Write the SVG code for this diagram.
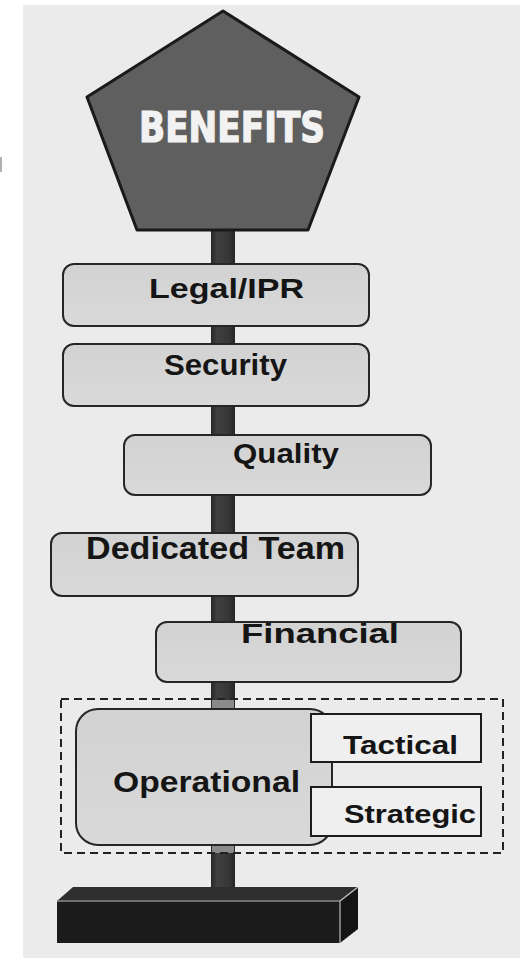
<svg xmlns="http://www.w3.org/2000/svg" width="520" height="958" viewBox="0 0 520 958">
  <defs>
    <linearGradient id="poleGrad" x1="0" y1="0" x2="1" y2="0">
      <stop offset="0" stop-color="#262626"/>
      <stop offset="0.25" stop-color="#404040"/>
      <stop offset="0.75" stop-color="#363636"/>
      <stop offset="1" stop-color="#262626"/>
    </linearGradient>
    <linearGradient id="boxGrad" x1="0" y1="0" x2="0" y2="1">
      <stop offset="0" stop-color="#d2d2d2"/>
      <stop offset="1" stop-color="#d9d9d9"/>
    </linearGradient>
  </defs>
  <style>
    .bg { fill: #ebebeb; }
    .box { fill: url(#boxGrad); stroke: #262626; stroke-width: 2; }
    .sub { fill: #efefef; stroke: #1c1c1c; stroke-width: 2; }
    .lbl { font-family: "Liberation Sans", Arial, sans-serif; font-weight: bold; fill: #151515; }
    .title { font-family: "DejaVu Sans Condensed", "Liberation Sans Narrow", sans-serif; font-weight: bold; fill: #f2f2f2; stroke: #f2f2f2; stroke-width: 1.2; }
    .dash { fill: none; stroke: #222; stroke-width: 2; stroke-dasharray: 8 5; }
  </style>

  <!-- page -->
  <rect x="0" y="0" width="520" height="958" fill="#ffffff"/>
  <rect class="bg" x="23" y="5" width="497" height="953"/>
  <rect x="0" y="157" width="2" height="15" fill="#b0b0b0"/>

  <!-- signpost pole -->
  <g id="connectors">
    <rect x="211" y="225" width="24" height="668" fill="url(#poleGrad)"/>
    <rect x="212" y="700" width="22" height="10" fill="#8a8a8a"/>
    <rect x="212" y="845" width="22" height="8" fill="#8a8a8a"/>
  </g>

  <g id="benefits">
    <polygon points="223,11 359,97 308,230 137,230 87,97" fill="#5f5f5f" stroke="#1a1a1a" stroke-width="3" stroke-linejoin="round"/>
    <text class="title" x="139" y="142" font-size="42" textLength="186" lengthAdjust="spacingAndGlyphs">BENEFITS</text>
  </g>

  <g id="legal">
    <rect class="box" x="63" y="264" width="306" height="62" rx="11"/>
    <text class="lbl" x="149" y="298" font-size="28" textLength="155" lengthAdjust="spacingAndGlyphs">Legal/IPR</text>
  </g>

  <g id="security">
    <rect class="box" x="63" y="344" width="306" height="62" rx="11"/>
    <text class="lbl" x="164" y="375" font-size="29" textLength="123" lengthAdjust="spacingAndGlyphs">Security</text>
  </g>

  <g id="quality">
    <rect class="box" x="124" y="435" width="307" height="60" rx="11"/>
    <text class="lbl" x="233" y="463" font-size="27" textLength="106" lengthAdjust="spacingAndGlyphs">Quality</text>
  </g>

  <g id="dedicated-team">
    <rect class="box" x="51" y="533" width="307" height="63" rx="11"/>
    <text class="lbl" x="86" y="559" font-size="32" textLength="259" lengthAdjust="spacingAndGlyphs">Dedicated Team</text>
  </g>

  <g id="financial">
    <rect class="box" x="156" y="622" width="305" height="60" rx="11"/>
    <text class="lbl" x="241" y="643" font-size="27" textLength="158" lengthAdjust="spacingAndGlyphs">Financial</text>
  </g>

  <g id="operational-group">
    <rect class="dash" x="61" y="699" width="442" height="154"/>
  </g>

  <g id="operational">
    <rect class="box" x="76" y="709" width="256" height="136" rx="22"/>
    <text class="lbl" x="113" y="792" font-size="30" textLength="187" lengthAdjust="spacingAndGlyphs">Operational</text>
  </g>

  <g id="tactical">
    <rect class="sub" x="311" y="714" width="170" height="48"/>
    <text class="lbl" x="343" y="754" font-size="25" textLength="115" lengthAdjust="spacingAndGlyphs">Tactical</text>
  </g>

  <g id="strategic">
    <rect class="sub" x="311" y="787" width="170" height="49"/>
    <text class="lbl" x="344" y="823" font-size="25" textLength="132" lengthAdjust="spacingAndGlyphs">Strategic</text>
  </g>

  <!-- base block -->
  <g id="base">
    <polygon points="57,901 73,887 358,887 340,901" fill="#2e2e2e"/>
    <polygon points="340,901 358,887 358,929 340,943" fill="#141414"/>
    <rect x="57" y="901" width="283" height="42" fill="#1c1c1c"/>
    <line x1="57" y1="901" x2="340" y2="901" stroke="#8a8a8a" stroke-width="1.5"/>
    <line x1="340" y1="901" x2="358" y2="887" stroke="#bdbdbd" stroke-width="1.5"/>
    <line x1="340" y1="901" x2="340" y2="943" stroke="#9a9a9a" stroke-width="1.5"/>
  </g>
</svg>
